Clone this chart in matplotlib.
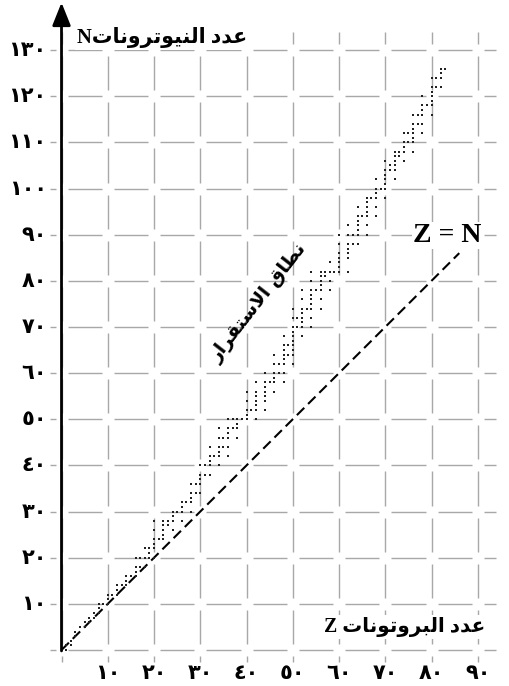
import matplotlib
matplotlib.use('Agg')
import matplotlib.pyplot as plt
from matplotlib.collections import LineCollection

# stable nuclides: proton number Z -> neutron numbers N
stable_light = {
    1: [0, 1], 2: [1, 2], 3: [3, 4], 4: [5], 5: [5, 6], 6: [6, 7], 7: [7, 8],
    8: [8, 9, 10], 9: [10], 10: [10, 11, 12], 11: [12], 12: [12, 13, 14],
    13: [14], 14: [14, 15, 16], 15: [16], 16: [16, 17, 18, 20], 17: [18, 20],
    18: [18, 20, 22], 19: [20, 21, 22], 20: [20, 22, 23, 24, 26, 28], 21: [24],
    22: [24, 25, 26, 27, 28], 23: [27, 28], 24: [26, 28, 29, 30], 25: [30],
    26: [28, 30, 31, 32], 27: [32], 28: [30, 32, 33, 34, 36], 29: [34, 36],
    30: [34, 36, 37, 38, 40],
}
stable_mid = {
    31: [38, 40], 32: [38, 40, 41, 42, 44], 33: [42], 34: [40, 42, 43, 44, 46, 48],
    35: [44, 46], 36: [42, 44, 46, 47, 48, 50], 37: [48, 50], 38: [46, 48, 49, 50],
    39: [50], 40: [50, 51, 52, 54, 56], 41: [52], 42: [50, 52, 53, 54, 55, 56, 58],
    44: [52, 54, 55, 56, 57, 58, 60], 45: [58], 46: [56, 58, 59, 60, 62, 64],
    47: [60, 62], 48: [58, 60, 62, 63, 64, 65, 66, 68], 49: [64, 66],
    50: [62, 64, 65, 66, 67, 68, 69, 70, 72, 74], 51: [70, 72],
    52: [68, 70, 71, 72, 73, 74, 76, 78], 53: [74],
    54: [70, 72, 74, 75, 76, 77, 78, 80, 82], 55: [78],
    56: [74, 76, 78, 79, 80, 81, 82], 57: [81, 82], 58: [78, 80, 82, 84],
    59: [82], 60: [82, 83, 84, 85, 86, 88, 90],
}
stable_heavy = {
    62: [82, 85, 86, 87, 88, 90, 92], 63: [88, 90],
    64: [88, 90, 91, 92, 93, 94, 96], 65: [94], 66: [90, 92, 94, 95, 96, 97, 98],
    67: [98], 68: [94, 96, 98, 99, 100, 102], 69: [100],
    70: [98, 100, 101, 102, 103, 104, 106], 71: [104, 105],
    72: [102, 104, 105, 106, 107, 108], 73: [107, 108], 74: [106, 108, 109, 110, 112],
    75: [110, 112], 76: [108, 110, 111, 112, 113, 114, 116], 77: [114, 116],
    78: [112, 114, 116, 117, 118, 120], 79: [118],
    80: [116, 118, 119, 120, 121, 122, 124], 81: [122, 124],
    82: [122, 124, 125, 126], 83: [126],
}

# Z = N reference line
zn_line = [0, 86]

x_ticks = [10, 20, 30, 40, 50, 60, 70, 80, 90]
x_tick_labels = ['١٠', '٢٠', '٣٠', '٤٠', '٥٠', '٦٠', '٧٠', '٨٠', '٩٠']
y_ticks = [10, 20, 30, 40, 50, 60, 70, 80, 90, 100, 110, 120, 130]
y_tick_labels = ['١٠', '٢٠', '٣٠', '٤٠', '٥٠', '٦٠', '٧٠', '٨٠', '٩٠',
                 '١٠٠', '١١٠', '١٢٠', '١٣٠']

# arabic labels in presentation forms (logical order), reversed for display
neutrons_ar = '\uFECB\uFEAA\uFEA9 \uFE8D\uFEDF\uFEE8\uFEF4\uFEEE\uFE97\uFEAE\uFEED\uFEE7\uFE8E\uFE95'
protons_ar = '\uFECB\uFEAA\uFEA9 \uFE8D\uFEDF\uFE92\uFEAE\uFEED\uFE97\uFEEE\uFEE7\uFE8E\uFE95'
band_ar = '\uFEE7\uFEC4\uFE8E\uFED5 \uFE8D\uFEFB\uFEB3\uFE98\uFED8\uFEAE\uFE8D\uFEAD'

zs, ns = [], []
for table in (stable_light, stable_mid, stable_heavy):
    for z, n_list in table.items():
        for n in n_list:
            zs.append(z)
            ns.append(n)

fig = plt.figure(figsize=(5.1, 6.86), dpi=100)
ax = fig.add_axes([0, 0, 1, 1])
ax.set_xlim(-13.3, 96.97)
ax.set_ylim(-7.8, 140.85)
ax.axis('off')


def dash_spans(lo, hi, gap=1.3):
    # dashes with a gap centred on every multiple of 10
    spans = []
    k = int(lo // 10) - 1
    while k * 10 < hi:
        a = max(lo, k * 10 + gap)
        b = min(hi, (k + 1) * 10 - gap)
        if b > a:
            spans.append((a, b))
        k += 1
    return spans


segs = []
for n in [0] + y_ticks:
    for a, b in dash_spans(-2.5, 94):
        segs.append([(a, n), (b, n)])
for z in [0] + x_ticks:
    for a, b in dash_spans(-2.5, 134):
        segs.append([(z, a), (z, b)])
ax.add_collection(LineCollection(segs, colors='#a8a8a8', linewidths=1.0, zorder=1))

# axes with arrows
arrow = dict(arrowstyle='-|>,head_length=0.7,head_width=0.28', color='black',
             lw=2.0, shrinkA=0, shrinkB=0, mutation_scale=20)
ax.annotate('', xy=(97.2, 0), xytext=(-1.4, 0), arrowprops=arrow, zorder=5)
ax.annotate('', xy=(0, 140.3), xytext=(0, -0.2), arrowprops=arrow, zorder=5)

ax.plot(zn_line, zn_line, color='black', lw=1.5, ls=(0, (5, 2.6)), zorder=3)
ax.scatter(zs, ns, s=2.6, marker='s', color='#222222', linewidths=0, zorder=4)

for z, lab in zip(x_ticks, x_tick_labels):
    ax.text(z, -4.9, lab, ha='center', va='center', fontsize=15, weight='bold',
            family='DejaVu Sans')
for n, lab in zip(y_ticks, y_tick_labels):
    ax.text(-3.2, n, lab, ha='right', va='center', fontsize=15, weight='bold',
            family='DejaVu Sans')

white = dict(facecolor='white', edgecolor='none', pad=1.5)
ax.text(3.4, 132.8, 'N' + neutrons_ar[::-1], ha='left', va='center', fontsize=14.8,
        weight='bold', family=['Liberation Serif', 'DejaVu Sans'], bbox=white, zorder=6)
ax.text(56.8, 4.9, 'Z ' + protons_ar[::-1], ha='left', va='center', fontsize=14.3,
        weight='bold', family=['Liberation Serif', 'DejaVu Sans'], bbox=white, zorder=6)
ax.text(76, 89.8, 'Z = N', ha='left', va='center', fontsize=20, weight='bold',
        family='Liberation Serif', bbox=dict(facecolor='white', edgecolor='none', pad=0.5),
        zorder=6)
ax.text(42.8, 75.3, band_ar[::-1], ha='center', va='center', fontsize=13.5,
        weight='bold', rotation=52, rotation_mode='anchor', family='DejaVu Sans',
        zorder=6)

fig.savefig('out.png', dpi=100)
